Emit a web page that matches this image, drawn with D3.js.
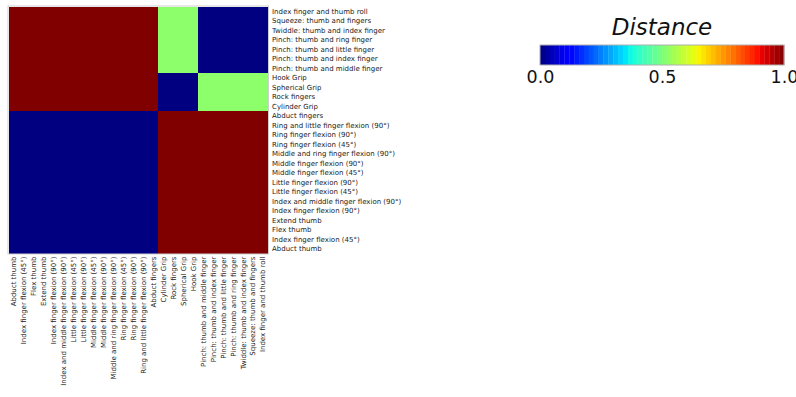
<!DOCTYPE html>
<html>
<head>
<meta charset="utf-8">
<script src="https://cdn.jsdelivr.net/npm/d3@7"></script>
<style>
  html, body { margin: 0; padding: 0; background: #fff; }
  svg { display: block; font-family: "DejaVu Sans", sans-serif; }
</style>
</head>
<body>
<svg id="chart" width="796" height="397"></svg>
<script>
// Gesture names, listed in row order (top to bottom). Columns run in the reverse order.
const gestures = [
  "Index finger and thumb roll",
  "Squeeze: thumb and fingers",
  "Twiddle: thumb and index finger",
  "Pinch: thumb and ring finger",
  "Pinch: thumb and little finger",
  "Pinch: thumb and index finger",
  "Pinch: thumb and middle finger",
  "Hook Grip",
  "Spherical Grip",
  "Rock fingers",
  "Cylinder Grip",
  "Abduct fingers",
  "Ring and little finger flexion (90°)",
  "Ring finger flexion (90°)",
  "Ring finger flexion (45°)",
  "Middle and ring finger flexion (90°)",
  "Middle finger flexion (90°)",
  "Middle finger flexion (45°)",
  "Little finger flexion (90°)",
  "Little finger flexion (45°)",
  "Index and middle finger flexion (90°)",
  "Index finger flexion (90°)",
  "Extend thumb",
  "Flex thumb",
  "Index finger flexion (45°)",
  "Abduct thumb"
];
const columnGestures = gestures.slice().reverse();

// Pairwise distance matrix: one row per entry of `gestures`, one column per entry of `columnGestures`.
const distances = [
  [1,1,1,1,1,1,1,1,1,1,1,1,1,1,1,0.52,0.52,0.52,0.52,0,0,0,0,0,0,0],
  [1,1,1,1,1,1,1,1,1,1,1,1,1,1,1,0.52,0.52,0.52,0.52,0,0,0,0,0,0,0],
  [1,1,1,1,1,1,1,1,1,1,1,1,1,1,1,0.52,0.52,0.52,0.52,0,0,0,0,0,0,0],
  [1,1,1,1,1,1,1,1,1,1,1,1,1,1,1,0.52,0.52,0.52,0.52,0,0,0,0,0,0,0],
  [1,1,1,1,1,1,1,1,1,1,1,1,1,1,1,0.52,0.52,0.52,0.52,0,0,0,0,0,0,0],
  [1,1,1,1,1,1,1,1,1,1,1,1,1,1,1,0.52,0.52,0.52,0.52,0,0,0,0,0,0,0],
  [1,1,1,1,1,1,1,1,1,1,1,1,1,1,1,0.52,0.52,0.52,0.52,0,0,0,0,0,0,0],
  [1,1,1,1,1,1,1,1,1,1,1,1,1,1,1,0,0,0,0,0.52,0.52,0.52,0.52,0.52,0.52,0.52],
  [1,1,1,1,1,1,1,1,1,1,1,1,1,1,1,0,0,0,0,0.52,0.52,0.52,0.52,0.52,0.52,0.52],
  [1,1,1,1,1,1,1,1,1,1,1,1,1,1,1,0,0,0,0,0.52,0.52,0.52,0.52,0.52,0.52,0.52],
  [1,1,1,1,1,1,1,1,1,1,1,1,1,1,1,0,0,0,0,0.52,0.52,0.52,0.52,0.52,0.52,0.52],
  [0,0,0,0,0,0,0,0,0,0,0,0,0,0,0,1,1,1,1,1,1,1,1,1,1,1],
  [0,0,0,0,0,0,0,0,0,0,0,0,0,0,0,1,1,1,1,1,1,1,1,1,1,1],
  [0,0,0,0,0,0,0,0,0,0,0,0,0,0,0,1,1,1,1,1,1,1,1,1,1,1],
  [0,0,0,0,0,0,0,0,0,0,0,0,0,0,0,1,1,1,1,1,1,1,1,1,1,1],
  [0,0,0,0,0,0,0,0,0,0,0,0,0,0,0,1,1,1,1,1,1,1,1,1,1,1],
  [0,0,0,0,0,0,0,0,0,0,0,0,0,0,0,1,1,1,1,1,1,1,1,1,1,1],
  [0,0,0,0,0,0,0,0,0,0,0,0,0,0,0,1,1,1,1,1,1,1,1,1,1,1],
  [0,0,0,0,0,0,0,0,0,0,0,0,0,0,0,1,1,1,1,1,1,1,1,1,1,1],
  [0,0,0,0,0,0,0,0,0,0,0,0,0,0,0,1,1,1,1,1,1,1,1,1,1,1],
  [0,0,0,0,0,0,0,0,0,0,0,0,0,0,0,1,1,1,1,1,1,1,1,1,1,1],
  [0,0,0,0,0,0,0,0,0,0,0,0,0,0,0,1,1,1,1,1,1,1,1,1,1,1],
  [0,0,0,0,0,0,0,0,0,0,0,0,0,0,0,1,1,1,1,1,1,1,1,1,1,1],
  [0,0,0,0,0,0,0,0,0,0,0,0,0,0,0,1,1,1,1,1,1,1,1,1,1,1],
  [0,0,0,0,0,0,0,0,0,0,0,0,0,0,0,1,1,1,1,1,1,1,1,1,1,1],
  [0,0,0,0,0,0,0,0,0,0,0,0,0,0,0,1,1,1,1,1,1,1,1,1,1,1]
];

const colorbarTicks = [0.0, 0.5, 1.0];
const colorbarTitle = "Distance";

// Classic "jet" colormap, piecewise linear in each channel.
function jet(v) {
  const t = Math.max(0, Math.min(1, v));
  const interp = (pts) => {
    for (let i = 1; i < pts.length; i++) {
      if (t <= pts[i][0]) {
        const [x0, y0] = pts[i - 1], [x1, y1] = pts[i];
        return y0 + (y1 - y0) * (t - x0) / (x1 - x0);
      }
    }
    return pts[pts.length - 1][1];
  };
  const r = interp([[0,0],[0.35,0],[0.66,1],[0.89,1],[1,0.5]]);
  const g = interp([[0,0],[0.125,0],[0.375,1],[0.64,1],[0.91,0],[1,0]]);
  const b = interp([[0,0.5],[0.11,1],[0.34,1],[0.65,0],[1,0]]);
  return d3.rgb(Math.round(r * 255), Math.round(g * 255), Math.round(b * 255)).toString();
}

const svg = d3.select("#chart");

// Heatmap
const x = d3.scaleBand().domain(columnGestures).range([8.5, 268]);
const y = d3.scaleBand().domain(gestures).range([6.5, 253.5]);

const cells = [];
gestures.forEach((rowName, i) => {
  columnGestures.forEach((colName, j) => {
    cells.push({ row: rowName, col: colName, value: distances[i][j] });
  });
});

const heat = svg.append("g");
heat.selectAll("rect.cell")
  .data(cells)
  .join("rect")
  .attr("class", "cell")
  .attr("x", d => x(d.col))
  .attr("y", d => y(d.row))
  .attr("width", x.bandwidth() + 0.4)
  .attr("height", y.bandwidth() + 0.4)
  .attr("fill", d => jet(d.value))
  .attr("shape-rendering", "crispEdges");

heat.append("rect")
  .attr("x", x.range()[0] - 0.5)
  .attr("y", y.range()[0] - 0.5)
  .attr("width", x.range()[1] - x.range()[0] + 1)
  .attr("height", y.range()[1] - y.range()[0] + 1)
  .attr("fill", "none")
  .attr("stroke", "#cfcfcf")
  .attr("stroke-width", 1);

// Row labels on the right
const rightAxis = d3.axisRight(y).tickSize(0).tickPadding(4);
svg.append("g")
  .attr("transform", `translate(${x.range()[1]},0)`)
  .call(rightAxis)
  .call(g => g.select(".domain").remove())
  .selectAll("text")
  .attr("font-size", 7)
  .attr("font-family", "DejaVu Sans")
  .attr("fill", "#222");

// Column labels along the bottom, rotated
const bottomAxis = d3.axisBottom(x).tickSize(0).tickPadding(0);
svg.append("g")
  .attr("transform", `translate(0,${y.range()[1]})`)
  .call(bottomAxis)
  .call(g => g.select(".domain").remove())
  .selectAll("text")
  .attr("font-size", 7)
  .attr("font-family", "DejaVu Sans")
  .attr("fill", "#222")
  .attr("text-anchor", "end")
  .attr("transform", "rotate(-90)")
  .attr("x", -3)
  .attr("y", 0)
  .attr("dy", "0.35em");

// Colorbar
const cbX = d3.scaleLinear().domain([0, 1]).range([540, 784]);
const cbTop = 45, cbHeight = 20;
const nBands = 50;
const bands = d3.range(nBands).map(i => ({ lo: i / nBands, hi: (i + 1) / nBands }));

const cb = svg.append("g");
cb.selectAll("rect.band")
  .data(bands)
  .join("rect")
  .attr("class", "band")
  .attr("x", d => cbX(d.lo))
  .attr("y", cbTop)
  .attr("width", d => cbX(d.hi) - cbX(d.lo) + 0.3)
  .attr("height", cbHeight)
  .attr("fill", d => jet((d.lo + d.hi) / 2));

cb.append("rect")
  .attr("x", cbX(0))
  .attr("y", cbTop)
  .attr("width", cbX(1) - cbX(0))
  .attr("height", cbHeight)
  .attr("fill", "none")
  .attr("stroke", "#b0b0b0")
  .attr("stroke-width", 1);

const cbAxis = d3.axisBottom(cbX)
  .tickValues(colorbarTicks)
  .tickFormat(d3.format(".1f"))
  .tickSize(0)
  .tickPadding(6);
cb.append("g")
  .attr("transform", `translate(0,${cbTop + cbHeight})`)
  .call(cbAxis)
  .call(g => g.select(".domain").remove())
  .selectAll("text")
  .attr("font-size", 17.5)
  .attr("font-family", "DejaVu Sans")
  .attr("fill", "#111");

cb.append("text")
  .attr("x", (cbX(0) + cbX(1)) / 2)
  .attr("y", 35)
  .attr("text-anchor", "middle")
  .attr("font-size", 23)
  .attr("font-style", "italic")
  .attr("font-family", "DejaVu Sans")
  .attr("fill", "#111")
  .text(colorbarTitle);
</script>
</body>
</html>
